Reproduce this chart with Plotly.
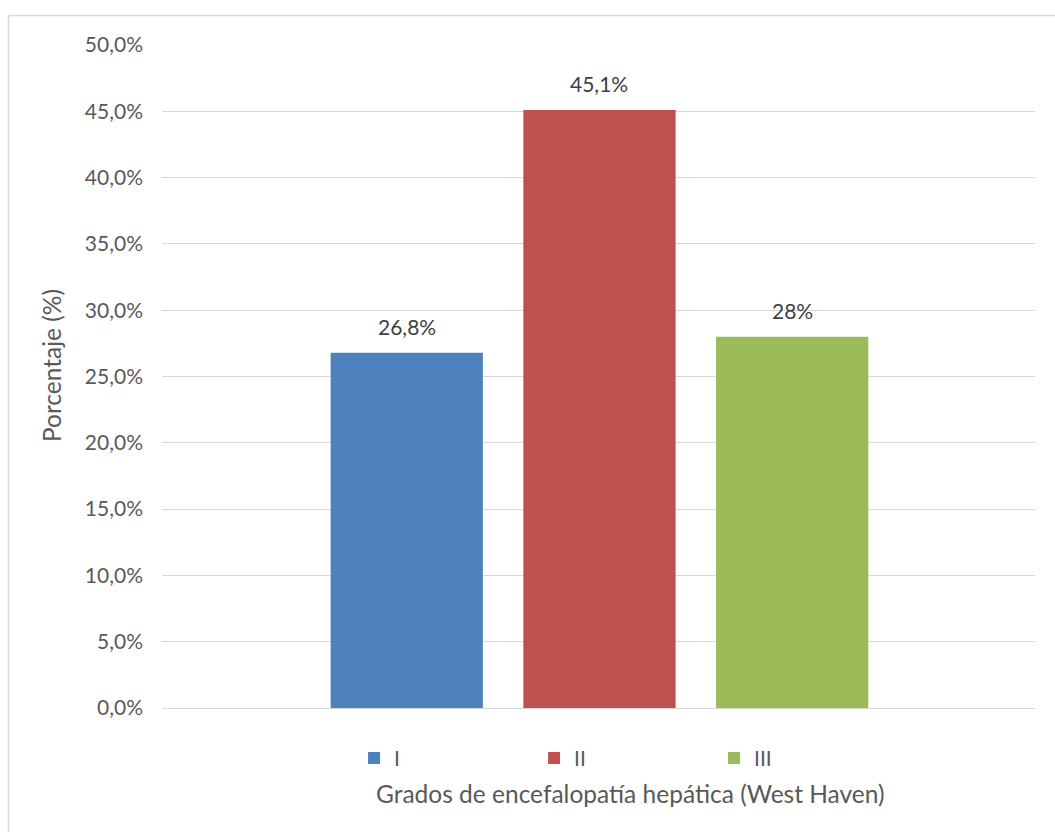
import plotly.graph_objects as go

# Grados de encefalopatía hepática (West Haven) – porcentaje de pacientes
grados = ["I", "II", "III"]
porcentajes = [26.8, 45.1, 28.0]
etiquetas = ["26,8%", "45,1%", "28%"]
colores = ["#4f81bd", "#c0504d", "#9bbb59"]

tick_vals = [0, 5, 10, 15, 20, 25, 30, 35, 40, 45, 50]
tick_text = ["0,0%", "5,0%", "10,0%", "15,0%", "20,0%", "25,0%",
             "30,0%", "35,0%", "40,0%", "45,0%", "50,0%"]

FONT = "Lato, 'Open Sans', sans-serif"
GRIS = "#595959"

W, H = 1055, 832
L, R, T, B = 162, 20, 45, 124
pw = W - L - R
ph = H - T - B

fig = go.Figure()
for i, (g, v, lab, c) in enumerate(zip(grados, porcentajes, etiquetas, colores)):
    fig.add_trace(go.Bar(
        x=[i], y=[v], name=g, width=0.79,
        marker=dict(color=c, line=dict(width=0)),
        hovertemplate=f"{g}: {lab}<extra></extra>",
    ))
    # data label above each bar
    fig.add_annotation(
        x=i, y=v, text=lab, showarrow=False,
        xanchor="center", yanchor="middle", yshift=26,
        font=dict(size=21, color="#404040", family=FONT),
    )

fig.update_layout(
    width=W, height=H,
    margin=dict(l=L, r=R, t=T, b=B, pad=0),
    paper_bgcolor="white", plot_bgcolor="white",
    barmode="overlay",
    font=dict(family=FONT, color=GRIS),
    showlegend=True,
    legend=dict(
        orientation="h", x=0.22, xanchor="left", y=-0.045, yanchor="top",
        entrywidth=135, entrywidthmode="pixels",
        font=dict(size=21, color=GRIS, family=FONT),
        itemwidth=30, tracegroupgap=0,
    ),
    xaxis=dict(
        range=[-1.27, 3.26],
        showticklabels=False, showgrid=False, zeroline=False,
        showline=True, linecolor="#d9d9d9", linewidth=1, ticks="",
    ),
    yaxis=dict(
        range=[0, 50], tickvals=tick_vals, ticktext=tick_text,
        showgrid=True, gridcolor="#d9d9d9", gridwidth=1,
        zeroline=False, showline=False, ticks="",
        ticklabelstandoff=18,
        tickfont=dict(size=21, color=GRIS, family=FONT),
    ),
)

# axis titles
fig.add_annotation(
    text="Grados de encefalopatía hepática (West Haven)",
    xref="paper", yref="paper", x=(630 - L) / pw, y=-(793 - (T + ph)) / ph,
    xanchor="center", yanchor="middle", showarrow=False,
    font=dict(size=24.5, color=GRIS, family=FONT),
)
fig.add_annotation(
    text="Porcentaje (%)", textangle=-90,
    xref="paper", yref="paper", x=(51 - L) / pw, y=1 - (366 - T) / ph,
    xanchor="center", yanchor="middle", showarrow=False,
    font=dict(size=24.5, color=GRIS, family=FONT),
)

# chart frame (left and top edges)
fx = (8.5 - L) / pw
fy = 1 + (T - 15.5) / ph
fig.add_shape(type="line", xref="paper", yref="paper",
              x0=fx, x1=fx, y0=-B / ph, y1=fy,
              line=dict(color="#d9d9d9", width=1.5))
fig.add_shape(type="line", xref="paper", yref="paper",
              x0=fx, x1=(W - L) / pw, y0=fy, y1=fy,
              line=dict(color="#d9d9d9", width=1.5))

fig.write_html("out.html")
